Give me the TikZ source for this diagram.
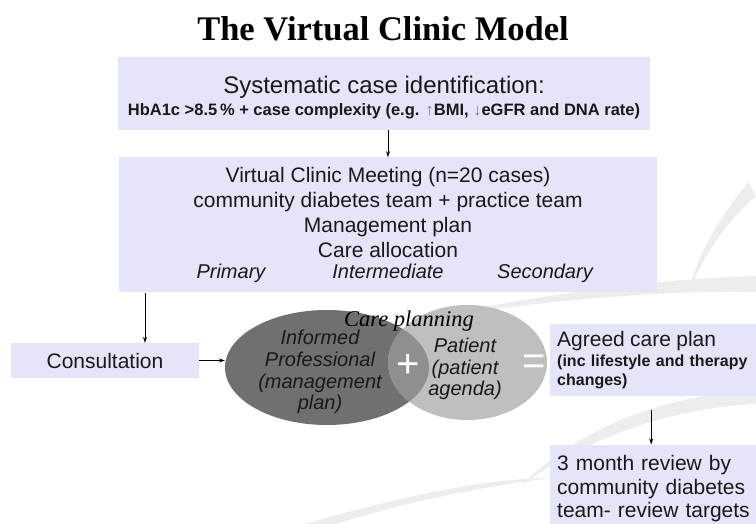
\documentclass[tikz,border=0pt]{standalone}
\usepackage{fontspec}
\setmainfont{Liberation Sans}
\newfontfamily\serifttl{Liberation Serif}
\usetikzlibrary{shapes.geometric, arrows.meta, positioning, calc}
\definecolor{clav}{RGB}{229,229,250}
\definecolor{cdark}{gray}{0.44}
\definecolor{cmid}{gray}{0.56}
\definecolor{clight}{gray}{0.75}
\definecolor{cswoosh}{gray}{0.93}

\begin{document}
\begin{tikzpicture}[
    x=1pt, y=-1pt,
    box/.style={fill=clav, inner sep=6pt, align=center, text=black!90},
    oval/.style={ellipse, inner sep=0pt},
    ovaltext/.style={align=center, font=\fontsize{20}{21.7}\selectfont\itshape, inner sep=0pt, text=black!90},
    sign/.style={text=white, font=\fontsize{40}{40}\selectfont, inner sep=0pt},
    arr/.style={-{Stealth[length=6pt,width=4pt]}, line width=0.8pt}
]
\useasboundingbox (0,0) rectangle (756,524);
\clip (0,0) rectangle (756,524);
% faint swooshes in the background
\fill[cswoosh] (430,318) .. controls (560,298) and (680,290) .. (756,292) -- (756,276) .. controls (680,278) and (560,290) .. (430,318) -- cycle;
\fill[cswoosh] (748,182) .. controls (718,220) and (700,250) .. (688,292) .. controls (706,252) and (726,222) .. (756,196) -- cycle;
\fill[cswoosh] (520,486) .. controls (600,430) and (680,408) .. (756,404) -- (756,390) .. controls (670,396) and (590,420) .. (520,486) -- cycle;
\fill[cswoosh] (335,524) .. controls (420,498) and (500,484) .. (552,478) .. controls (490,478) and (410,494) .. (305,524) -- cycle;

\node[font=\serifttl\bfseries\fontsize{34.5}{38}\selectfont, anchor=base] (title) at (383,41) {The Virtual Clinic Model};

\node[box, minimum width=532pt, minimum height=73pt, font=\fontsize{16.5}{20}\selectfont\bfseries] (ident) at (384,93.5)
    {{\mdseries\fontsize{24}{27}\selectfont\rule{0pt}{26pt}Systematic case identification:}\\[2pt]
     HbA1c >8.5\,\% + case complexity (e.g. {\color{gray}↑}BMI, {\color{gray}↓}eGFR and DNA rate)};
\node[box, minimum width=538pt, minimum height=135pt, below=27pt of ident, xshift=4pt, font=\fontsize{21}{25}\selectfont] (meeting)
    {Virtual Clinic Meeting (n=20 cases)\\
     community diabetes team + practice team\\
     Management plan\\
     Care allocation\\[-4pt]
     {\fontsize{20}{21}\selectfont\itshape \makebox[157pt]{Primary}\makebox[157pt]{Intermediate}\makebox[157pt]{Secondary}}};
\node[box, minimum width=188pt, minimum height=35pt, font=\fontsize{21}{25}\selectfont] (consult) at (105,360.5) {Consultation};

% the two overlapping ovals
\node[oval, fill=cdark, minimum width=204pt, minimum height=115pt] (prof) at (327,367.5) {};
\node[oval, fill=clight, minimum width=159pt, minimum height=115pt] (pat) at (467.5,362.5) {};
\begin{scope}
    \clip (327,367.5) ellipse [x radius=102pt, y radius=57.5pt];
    \fill[cmid] (467.5,362.5) ellipse [x radius=79.5pt, y radius=57.5pt];
\end{scope}
\node[ovaltext] (proftxt) at (320,372) {Informed\\Professional\\(management\\plan)};
\node[ovaltext] (pattxt) at (465,369) {Patient\\(patient\\agenda)};
\node[font=\serifttl\itshape\fontsize{22.5}{25}\selectfont, inner sep=0pt] (careplan) at (409,321) {Care planning};
\node[sign] (plus) at (408,366) {+};
\node[sign] (equals) at (534,365) {=};

\node[box, anchor=north west, minimum width=220pt, minimum height=72pt, text width=206pt, align=left, inner sep=7pt, font=\fontsize{16}{19}\selectfont\bfseries] (agreed) at (550,324)
    {{\mdseries\fontsize{21}{24}\selectfont Agreed care plan}\\[1pt]
     (inc lifestyle and therapy\\ changes)};
\node[box, below=48pt of agreed, minimum width=220pt, minimum height=88pt, text width=206pt, align=left, inner sep=7pt, font=\fontsize{21}{23.5}\selectfont] (review)
    {3 month review by\\ community diabetes\\ team- review targets};

\draw[arr] (ident.south -| meeting.north) -- (meeting.north);
\draw[arr] ([xshift=40pt]consult.north |- meeting.south) -- ([xshift=40pt]consult.north);
\draw[arr] (consult.east) -- (consult.east -| prof.west);
\draw[arr] ([xshift=-9pt,yshift=-14pt]agreed.south) -- ([xshift=-9pt]review.north);
\end{tikzpicture}
\end{document}
